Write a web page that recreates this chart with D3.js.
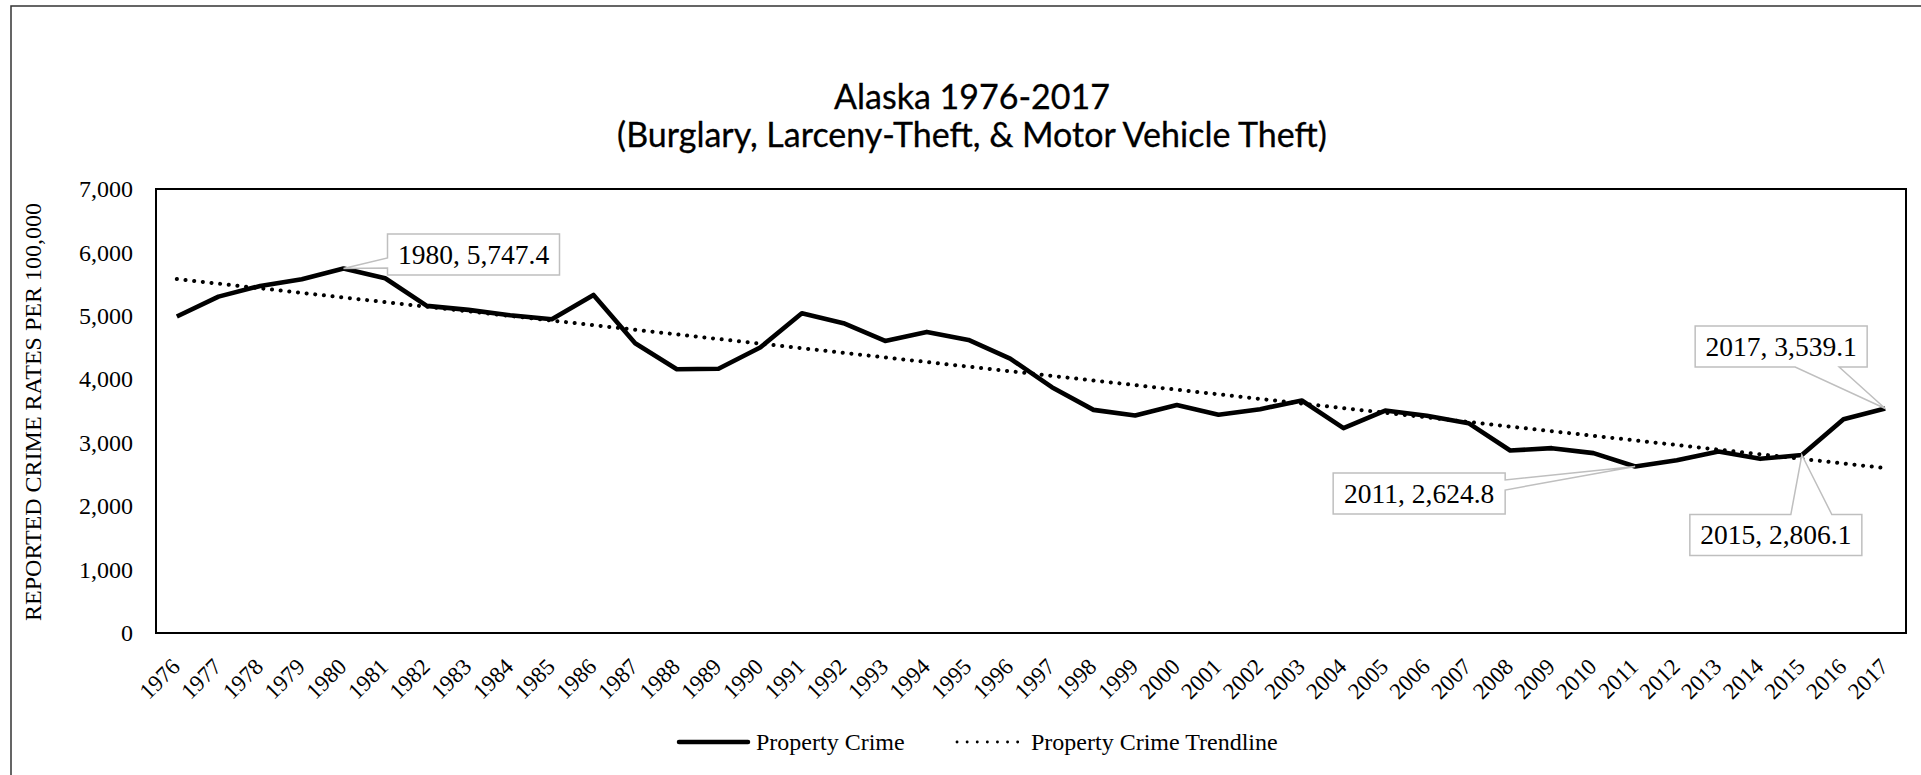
<!DOCTYPE html>
<html>
<head>
<meta charset="utf-8">
<script src="https://cdn.jsdelivr.net/npm/d3@7"></script>
<style>
  html, body { margin: 0; padding: 0; background: #fff; overflow: hidden; }
</style>
</head>
<body>
<script>
// data
var years = d3.range(1976, 2018);
var propertyCrime = [
    4990, 5303, 5472, 5577, 5747.4, 5593, 5157, 5094, 5010, 4947,
    5330, 4569, 4159, 4165, 4500, 5042, 4884, 4605, 4747, 4621,
    4327, 3876, 3518, 3429, 3595, 3440, 3529, 3665, 3230, 3507,
    3424, 3308, 2877, 2914, 2836, 2624.8, 2725, 2862, 2746, 2806.1,
    3371, 3539.1
];
// trendline end points (first and last year)
var trendYears = [1976, 2017];
var trendValues = [5580, 2600];
var yTicks = [0, 1000, 2000, 3000, 4000, 5000, 6000, 7000];
var calloutYears = [1980, 2011, 2015, 2017];
var legendNames = ['Property Crime', 'Property Crime Trendline'];
var titleLines = ['Alaska 1976-2017', '(Burglary, Larceny-Theft, & Motor Vehicle Theft)'];
var yTitle = 'REPORTED CRIME RATES PER 100,000';

var W = 1921, H = 775;
var plot = {left: 156, right: 1906, top: 189, bottom: 633};
var serif = "'Liberation Serif', 'Times New Roman', serif";

// callout box placement: offset of box centre from the point, and the side the pointer leaves from
var calloutLayout = {
    1980: {dx: 130, dy: -14, side: 'left', b0: 24, b1: 34},
    2011: {dx: -216, dy: 27, side: 'right', b0: 7, b1: 17},
    2015: {dx: -26, dy: 80, side: 'top', b0: 101, b1: 142},
    2017: {dx: -104, dy: -62, side: 'bottom', b0: 100, b1: 144}
};
var boxW = 172, boxH = 41;

var svg = d3.select('body')
    .append('svg')
    .attr('width', W)
    .attr('height', H);

svg.append('rect')
    .attr('width', W).attr('height', H)
    .attr('fill', 'white');

// outer chart border (runs off the right and bottom of the picture)
svg.append('rect')
    .attr('x', 11).attr('y', 6)
    .attr('width', W + 50).attr('height', H + 50)
    .attr('fill', 'none')
    .attr('stroke', '#333')
    .attr('stroke-width', 1.5);

// scales
var x = d3.scalePoint()
    .domain(years)
    .range([plot.left, plot.right])
    .padding(0.5);

var y = d3.scaleLinear()
    .domain([0, 7000])
    .range([plot.bottom, plot.top]);

// title
svg.append('g').selectAll('text').data(titleLines).enter()
    .append('text')
    .attr('x', 972)
    .attr('y', function (d, i) { return 109 + i * 38; })
    .attr('text-anchor', 'middle')
    .attr('font-family', "Lato, 'Open Sans', sans-serif")
    .attr('font-size', '34px')
    .attr('fill', '#000')
    .attr('stroke', '#000')
    .attr('stroke-width', 0.3)
    .text(function (d) { return d; });

// y axis
var yAxis = svg.append('g')
    .attr('transform', 'translate(' + 133 + ',0)')
    .call(d3.axisLeft(y).tickValues(yTicks).tickSize(0).tickPadding(0).tickFormat(d3.format(',')));
yAxis.select('.domain').remove();
yAxis.selectAll('text')
    .attr('font-family', serif)
    .attr('font-size', '24px')
    .attr('fill', '#000');

svg.append('text')
    .attr('transform', 'translate(41,412) rotate(-90)')
    .attr('text-anchor', 'middle')
    .attr('font-family', serif)
    .attr('font-size', '24px')
    .attr('fill', '#000')
    .text(yTitle);

// x axis
var xAxis = svg.append('g')
    .attr('transform', 'translate(0,' + plot.bottom + ')')
    .call(d3.axisBottom(x).tickSize(0));
xAxis.select('.domain').remove();
xAxis.selectAll('text')
    .attr('y', 0)
    .attr('dy', 0)
    .attr('text-anchor', 'end')
    .attr('transform', 'translate(4,35) rotate(-45)')
    .attr('font-family', serif)
    .attr('font-size', '23px')
    .attr('fill', '#000');

// plot area border
svg.append('rect')
    .attr('x', plot.left).attr('y', plot.top)
    .attr('width', plot.right - plot.left)
    .attr('height', plot.bottom - plot.top)
    .attr('fill', 'none')
    .attr('stroke', '#000')
    .attr('stroke-width', 2);

// trendline
var trendLine = d3.line()
    .x(function (d) { return x(d[0]); })
    .y(function (d) { return y(d[1]); });

svg.append('path')
    .datum(d3.zip(trendYears, trendValues))
    .attr('d', trendLine)
    .attr('fill', 'none')
    .attr('stroke', '#000')
    .attr('stroke-width', 4)
    .attr('stroke-linecap', 'round')
    .attr('stroke-dasharray', '0.1,8.6');

// property crime line
svg.append('path')
    .datum(d3.zip(years, propertyCrime))
    .attr('d', trendLine)
    .attr('fill', 'none')
    .attr('stroke', '#000')
    .attr('stroke-width', 4.6)
    .attr('stroke-linejoin', 'round');

// callouts
function calloutPath(px, py, L) {
    var cx = px + L.dx, cy = py + L.dy;
    var x0 = cx - boxW / 2, y0 = cy - boxH / 2, x1 = x0 + boxW, y1 = y0 + boxH;
    var p = [[x0, y0]];
    if (L.side === 'top') p.push([x0 + L.b0, y0], [px, py], [x0 + L.b1, y0]);
    p.push([x1, y0]);
    if (L.side === 'right') p.push([x1, y0 + L.b0], [px, py], [x1, y0 + L.b1]);
    p.push([x1, y1]);
    if (L.side === 'bottom') p.push([x0 + L.b1, y1], [px, py], [x0 + L.b0, y1]);
    p.push([x0, y1]);
    if (L.side === 'left') p.push([x0, y0 + L.b1], [px, py], [x0, y0 + L.b0]);
    return 'M' + p.join('L') + 'Z';
}

var fmt = d3.format(',.1f');
var callouts = svg.append('g').selectAll('g').data(calloutYears).enter().append('g');

callouts.append('path')
    .attr('d', function (d) {
        return calloutPath(x(d), y(propertyCrime[years.indexOf(d)]), calloutLayout[d]);
    })
    .attr('fill', 'white')
    .attr('stroke', '#bfbfbf')
    .attr('stroke-width', 1.5);

callouts.append('text')
    .attr('x', function (d) { return x(d) + calloutLayout[d].dx; })
    .attr('y', function (d) { return y(propertyCrime[years.indexOf(d)]) + calloutLayout[d].dy; })
    .attr('dy', '0.34em')
    .attr('text-anchor', 'middle')
    .attr('font-family', serif)
    .attr('font-size', '27.5px')
    .attr('fill', '#000')
    .text(function (d) { return d + ', ' + fmt(propertyCrime[years.indexOf(d)]); });

// legend
var legend = svg.append('g').attr('transform', 'translate(679,742)');
var legendX = [0, 277];

legend.selectAll('line').data(legendNames).enter()
    .append('line')
    .attr('x1', function (d, i) { return legendX[i] + (i ? 1 : 0); })
    .attr('x2', function (d, i) { return legendX[i] + (i ? 62 : 69); })
    .attr('y1', 0).attr('y2', 0)
    .attr('stroke', '#000')
    .attr('stroke-width', function (d, i) { return i ? 2.8 : 4.5; })
    .attr('stroke-linecap', 'round')
    .attr('stroke-dasharray', function (d, i) { return i ? '0.1,10' : null; });

legend.selectAll('text').data(legendNames).enter()
    .append('text')
    .attr('x', function (d, i) { return legendX[i] + (i ? 75 : 77); })
    .attr('y', 0)
    .attr('dy', '0.32em')
    .attr('font-family', serif)
    .attr('font-size', '24px')
    .attr('fill', '#000')
    .text(function (d) { return d; });
</script>
</body>
</html>
